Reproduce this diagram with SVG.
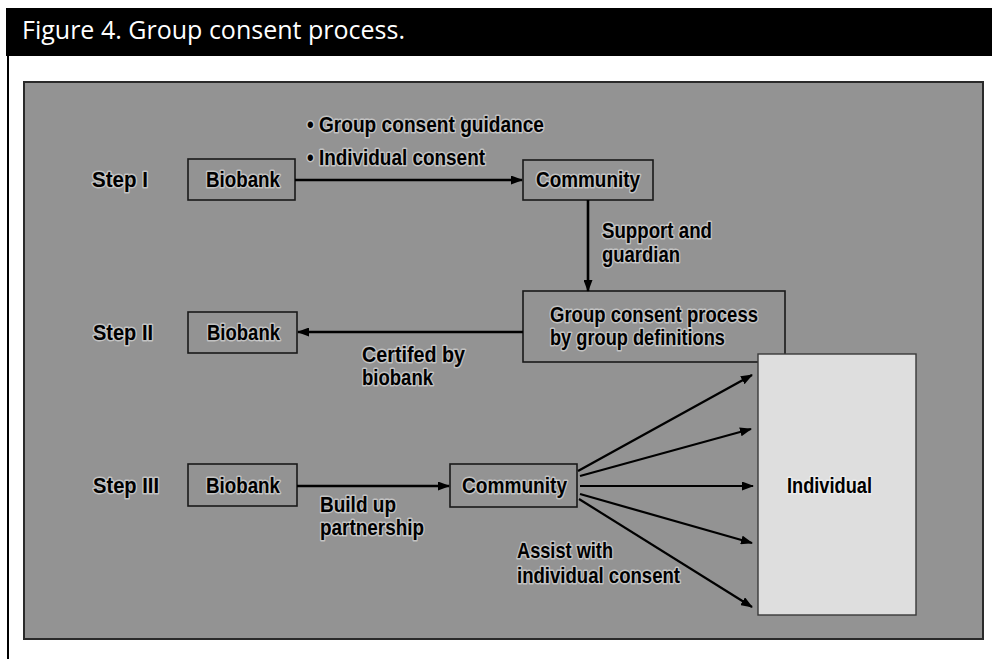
<svg xmlns="http://www.w3.org/2000/svg" width="992" height="659" viewBox="0 0 992 659">
  <style>
    .title { font-family: "Open Sans", "Noto Sans", sans-serif; font-size: 26px; fill: #ffffff; }
    .lbl { font-family: "Liberation Sans", Arial, sans-serif; font-weight: bold; font-size: 22px; fill: #000000;
           stroke: #ffffff; stroke-opacity: 0.45; stroke-width: 3; stroke-linejoin: round; paint-order: stroke; }
    .box { fill: none; stroke: #1a1a1a; stroke-width: 1.6; }
    .conn line { stroke: #000000; stroke-width: 2.6; marker-end: url(#ah); }
    .conn .fan { stroke-width: 2.2; }
  </style>
  <defs>
    <marker id="ah" markerUnits="userSpaceOnUse" markerWidth="12" markerHeight="9" refX="11" refY="4.5" orient="auto">
      <path d="M0,0 L12,4.5 L0,9 z" fill="#000000"/>
    </marker>
  </defs>

  <!-- header band -->
  <rect x="6" y="8" width="986" height="48" fill="#000000"/>
  <text class="title" x="22" y="39" textLength="383" lengthAdjust="spacingAndGlyphs">Figure 4. Group consent process.</text>
  <!-- left frame rule -->
  <rect x="7" y="56" width="2" height="603" fill="#000000"/>

  <!-- screened panel -->
  <rect x="24" y="82" width="959" height="557" fill="#939393" stroke="#2a2a2a" stroke-width="2"/>

  <!-- step labels -->
  <g id="step1"><text class="lbl" x="92" y="187" textLength="56" lengthAdjust="spacingAndGlyphs">Step I</text></g>
  <g id="step2"><text class="lbl" x="93" y="340" textLength="60" lengthAdjust="spacingAndGlyphs">Step II</text></g>
  <g id="step3"><text class="lbl" x="93" y="493" textLength="66" lengthAdjust="spacingAndGlyphs">Step III</text></g>

  <!-- nodes -->
  <g id="biobank1">
    <rect class="box" x="188" y="159" width="107" height="41"/>
    <text class="lbl" x="206" y="187" textLength="74" lengthAdjust="spacingAndGlyphs">Biobank</text>
  </g>
  <g id="community1">
    <rect class="box" x="523" y="160" width="130" height="40"/>
    <text class="lbl" x="536" y="187" textLength="104" lengthAdjust="spacingAndGlyphs">Community</text>
  </g>
  <g id="groupProcess">
    <rect class="box" x="523" y="291" width="262" height="71"/>
    <text class="lbl" x="550" y="322" textLength="208" lengthAdjust="spacingAndGlyphs">Group consent process</text>
    <text class="lbl" x="550" y="345" textLength="175" lengthAdjust="spacingAndGlyphs">by group definitions</text>
  </g>
  <g id="biobank2">
    <rect class="box" x="188" y="312" width="109" height="41"/>
    <text class="lbl" x="207" y="340" textLength="73" lengthAdjust="spacingAndGlyphs">Biobank</text>
  </g>
  <g id="biobank3">
    <rect class="box" x="188" y="464" width="109" height="42"/>
    <text class="lbl" x="206" y="493" textLength="74" lengthAdjust="spacingAndGlyphs">Biobank</text>
  </g>
  <g id="community3">
    <rect class="box" x="450" y="464" width="127" height="43"/>
    <text class="lbl" x="462" y="493" textLength="105" lengthAdjust="spacingAndGlyphs">Community</text>
  </g>
  <g id="individual">
    <rect x="758" y="354" width="158" height="261" fill="#dedede" stroke="#3a3a3a" stroke-width="1.4"/>
    <text class="lbl" x="787" y="493" textLength="85" lengthAdjust="spacingAndGlyphs">Individual</text>
  </g>

  <!-- connectors -->
  <g id="connectors" class="conn">
    <line x1="295" y1="180" x2="522" y2="180"/>
    <line x1="588" y1="200" x2="588" y2="291"/>
    <line x1="523" y1="332" x2="298" y2="332"/>
    <line x1="297" y1="486" x2="449" y2="486"/>
    <line class="fan" x1="578" y1="471" x2="752" y2="375"/>
    <line class="fan" x1="580" y1="476" x2="751" y2="429"/>
    <line class="fan" x1="580" y1="486" x2="753" y2="486"/>
    <line class="fan" x1="580" y1="494" x2="752" y2="543"/>
    <line class="fan" x1="579" y1="499" x2="752" y2="607"/>
  </g>

  <!-- connector labels -->
  <g id="labels">
    <text class="lbl" x="307" y="132" textLength="237" lengthAdjust="spacingAndGlyphs">• Group consent guidance</text>
    <text class="lbl" x="307" y="165" textLength="178" lengthAdjust="spacingAndGlyphs">• Individual consent</text>
    <text class="lbl" x="602" y="238" textLength="110" lengthAdjust="spacingAndGlyphs">Support and</text>
    <text class="lbl" x="602" y="262" textLength="78" lengthAdjust="spacingAndGlyphs">guardian</text>
    <text class="lbl" x="362" y="362" textLength="103" lengthAdjust="spacingAndGlyphs">Certifed by</text>
    <text class="lbl" x="362" y="385" textLength="71" lengthAdjust="spacingAndGlyphs">biobank</text>
    <text class="lbl" x="320" y="512" textLength="76" lengthAdjust="spacingAndGlyphs">Build up</text>
    <text class="lbl" x="320" y="535" textLength="104" lengthAdjust="spacingAndGlyphs">partnership</text>
    <text class="lbl" x="517" y="558" textLength="96" lengthAdjust="spacingAndGlyphs">Assist with</text>
    <text class="lbl" x="517" y="583" textLength="163" lengthAdjust="spacingAndGlyphs">individual consent</text>
  </g>
</svg>
